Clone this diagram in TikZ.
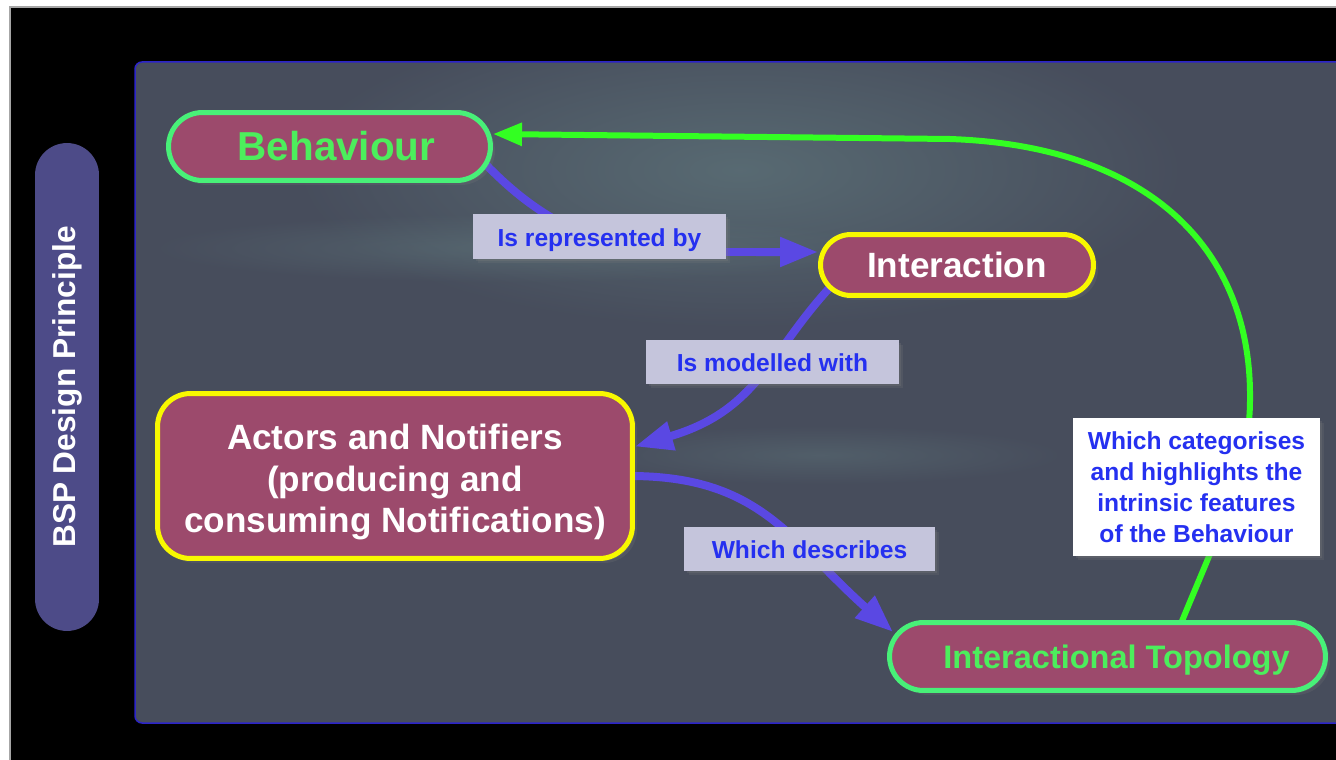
\documentclass[tikz,border=0pt]{standalone}
\usepackage{fontspec}
\setmainfont{Liberation Sans}
\usetikzlibrary{arrows.meta,shadows,fadings,calc}

\definecolor{panelfill}{HTML}{474D5C}
\definecolor{panelglow}{HTML}{5E747A}
\definecolor{panelline}{HTML}{2C24C8}
\definecolor{pillfill}{HTML}{4D4B88}
\definecolor{conceptfill}{HTML}{9C4A6C}
\definecolor{greenedge}{HTML}{48F078}
\definecolor{greentext}{HTML}{4CEE5C}
\definecolor{yellowedge}{HTML}{F8F800}
\definecolor{flowblue}{HTML}{5A48E3}
\definecolor{flowgreen}{HTML}{33FF22}
\definecolor{labelfill}{HTML}{C5C5DC}
\definecolor{labeltext}{HTML}{2530F0}

\tikzfading[name=softglow, inner color=transparent!0, outer color=transparent!100]

\pgfdeclarelayer{bg}
\pgfdeclarelayer{links}
\pgfsetlayers{bg,links,main}

\begin{document}
\begin{tikzpicture}[x=0.02cm,y=-0.02cm,
  softshadow/.style={
    drop shadow={shadow xshift=0.09cm, shadow yshift=-0.09cm, opacity=0.18},
    drop shadow={shadow xshift=0.05cm, shadow yshift=-0.05cm, opacity=0.25}},
  concept/.style={draw, line width=0.1cm, fill=conceptfill, font=\bfseries, softshadow},
  greenconcept/.style={concept, draw=greenedge, text=greentext},
  yellowconcept/.style={concept, draw=yellowedge, text=white},
  linklabel/.style={fill=labelfill, text=labeltext, font=\bfseries\fontsize{14}{17.6}\selectfont,
    inner sep=0pt, softshadow},
  flow/.style={draw=flowblue, line width=0.16cm, -{Triangle[length=0.76cm,width=0.56cm]}},
  backflow/.style={draw=flowgreen, line width=0.12cm, -{Triangle[length=0.58cm,width=0.44cm]}}]

\useasboundingbox (0,0) rectangle (1336,760);

\begin{pgfonlayer}{bg}
  % page and dark backdrop
  \fill[white] (0,0) rectangle (1336,760);
  \fill[black] (10,7) rectangle (1340,764);
  \draw[gray!70, line width=0.03cm] (10,764) -- (10,7) -- (1340,7);
  % main panel with soft glows
  \filldraw[fill=panelfill, draw=panelline, line width=0.03cm, rounded corners=0.14cm]
    (135,62) rectangle (1350,723);
  \begin{scope}
    \clip[rounded corners=0.14cm] (136,63) rectangle (1349,722);
    \fill[panelglow, opacity=0.75, path fading=softglow] (740,170) ellipse [x radius=9cm, y radius=3.2cm];
    \fill[panelglow, opacity=0.55, path fading=softglow] (520,248) ellipse [x radius=7.5cm, y radius=0.7cm];
    \fill[panelglow, opacity=0.45, path fading=softglow] (820,455) ellipse [x radius=5cm, y radius=0.6cm];
  \end{scope}
\end{pgfonlayer}

% side title pill
\node[fill=pillfill, rotate=90, minimum width=9.76cm, minimum height=1.28cm,
      rounded corners=0.64cm, text=white, font=\bfseries\fontsize{18}{20}\selectfont]
  (pill) at (67,387) {BSP Design Principle};

% concepts
\node[greenconcept, minimum width=6.44cm, minimum height=1.36cm, rounded corners=0.68cm,
      text height=16.5pt, text depth=0pt,
      font=\bfseries\fontsize{23}{27}\selectfont] (beh) at (329.5,146.5) {\hspace*{0.28cm}Behaviour};
\node[yellowconcept, minimum width=5.46cm, minimum height=1.22cm, rounded corners=0.61cm,
      text height=14.3pt, text depth=0pt,
      font=\bfseries\fontsize{20}{24}\selectfont] (inter) at (957,265) {Interaction};
\node[yellowconcept, minimum width=9.5cm, minimum height=3.3cm, rounded corners=0.66cm,
      align=center, font=\bfseries\fontsize{20}{23.5}\selectfont] (act) at (395,476)
  {\rule{0pt}{21.4pt}Actors and Notifiers\\(producing and\\consuming Notifications)};
\node[greenconcept, minimum width=8.72cm, minimum height=1.36cm, rounded corners=0.68cm,
      text height=13.2pt, text depth=0pt,
      font=\bfseries\fontsize{18.5}{22}\selectfont] (topo) at (1107.5,656.5)
  {\hspace*{0.36cm}Interactional Topology};

% relation labels
\node[linklabel, text height=11pt, text depth=0pt, minimum width=5.06cm, minimum height=0.9cm]
  (l1) at (599.5,236.5) {Is represented by};
\node[linklabel, text height=11pt, text depth=0pt, minimum width=5.06cm, minimum height=0.88cm]
  (l2) at (772.5,362) {Is modelled with};
\node[linklabel, text height=11pt, text depth=0pt, minimum width=5.02cm, minimum height=0.88cm]
  (l3) at (809.5,549) {Which describes};
\node[linklabel, fill=white, align=center, minimum width=4.94cm, minimum height=2.76cm] (l4) at (1196.5,487)
  {Which categorises\\and highlights the\\intrinsic features\\of the Behaviour};

% connectors
\begin{pgfonlayer}{links}
  \draw[flow] ([xshift=-0.2cm,yshift=-0.3cm]beh.east) .. controls (520,200) and (580,252) .. (680,252)
    -- ([yshift=0.26cm]inter.west);
  \draw[flow] ([xshift=0.34cm,yshift=0.32cm]inter.south west) .. controls (770,350) and (760,410) .. (act.7);
  \draw[flow] ([xshift=-0.1cm]act.east) .. controls (760,476) and (790,540) .. ([xshift=0.12cm,yshift=0.49cm]topo.west);
  \draw[backflow] ([xshift=1.45cm,yshift=-0.12cm]topo.north) .. controls (1215,540) and (1250,470) .. (1250,400)
    .. controls (1252,250) and (1150,146) .. (950,139) -- ([yshift=0.25cm]beh.east);
\end{pgfonlayer}
\end{tikzpicture}
\end{document}
